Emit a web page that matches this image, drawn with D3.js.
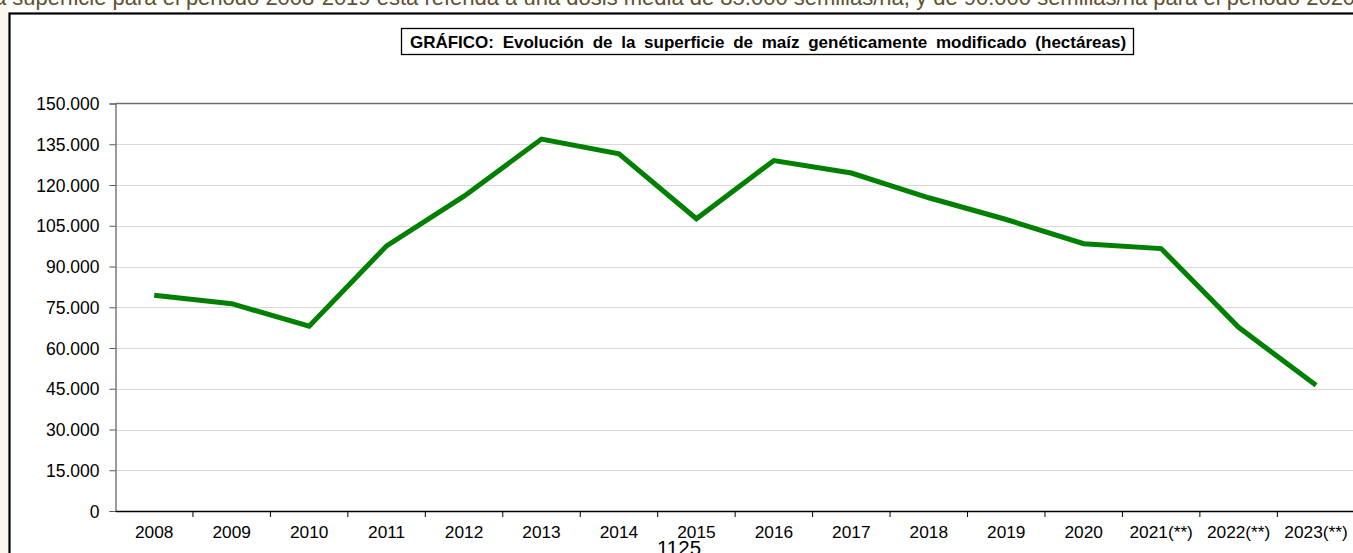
<!DOCTYPE html>
<html>
<head>
<meta charset="utf-8">
<script src="https://cdn.jsdelivr.net/npm/d3@7"></script>
<style>
  html, body { margin: 0; padding: 0; background: #ffffff; overflow: hidden; }
  svg { display: block; }
</style>
</head>
<body>
<script>
// ---- data ----
const years = ["2008","2009","2010","2011","2012","2013","2014","2015","2016","2017","2018","2019","2020","2021(**)","2022(**)","2023(**)"];
const hectares = [79400, 76300, 68000, 97600, 115900, 136900, 131500, 107600, 129000, 124400, 115300, 107300, 98400, 96600, 67600, 46300];
const yTicks = [0, 15000, 30000, 45000, 60000, 75000, 90000, 105000, 120000, 135000, 150000];
const titleText = "GRÁFICO: Evolución de la superficie de maíz genéticamente modificado (hectáreas)";
const topNote = "la superficie para el periodo 2008-2019 está referida a una dosis media de 85.000 semillas/ha, y de 90.000 semillas/ha para el periodo 2020";
const pageNumber = "1125";

const W = 1353, H = 553;
const svg = d3.select("body").append("svg").attr("width", W).attr("height", H);
const font = "'Liberation Sans', Arial, sans-serif";

// page background strip at the left
svg.append("rect").attr("x", 0).attr("y", 0).attr("width", 9).attr("height", H).attr("fill", "#fbf6ee");

// top cut-off note (only lower half visible, as in the reference)
svg.append("text").attr("x", -11).attr("y", 5)
  .attr("font-family", font).attr("font-size", 22)
  .attr("fill", "#5e5230").text(topNote);

// outer chart frame
svg.append("rect").attr("x", 9.5).attr("y", 13.5).attr("width", W + 20).attr("height", H + 20)
  .attr("fill", "#ffffff").attr("stroke", "#000").attr("stroke-width", 2.2);

// scales
const plot = { left: 115.5, right: 1354.8, top: 103.5, bottom: 511 };
const x = d3.scaleBand().domain(years).range([plot.left, plot.right]);
const y = d3.scaleLinear().domain([0, 150000]).range([plot.bottom, plot.top]);

// gridlines
svg.append("g").selectAll("line").data(yTicks.filter(d => d > 0 && d < 150000)).join("line")
  .attr("x1", plot.left).attr("x2", plot.right)
  .attr("y1", d => Math.round(y(d)) + 0.5).attr("y2", d => Math.round(y(d)) + 0.5)
  .attr("stroke", "#d9d9d9").attr("stroke-width", 1.2);

// plot border top
svg.append("line").attr("x1", plot.left).attr("x2", plot.right)
  .attr("y1", plot.top).attr("y2", plot.top)
  .attr("stroke", "#6f6f6f").attr("stroke-width", 1.5);

// y axis
const yAxis = d3.axisLeft(y).tickValues(yTicks).tickSize(6).tickPadding(10)
  .tickFormat(d => d === 0 ? "0" : d3.format(",")(d).replace(/,/g, "."));
const gy = svg.append("g").attr("transform", `translate(${plot.left},0)`).call(yAxis);
gy.select(".domain").attr("stroke", "#595959").attr("stroke-width", 1.2);
gy.selectAll(".tick line").attr("stroke", "#595959");
gy.selectAll(".tick text").attr("font-family", font).attr("font-size", 17.5).attr("fill", "#000").attr("dy", "0.35em");

// x axis
const xAxis = d3.axisBottom(x).tickSize(0).tickPadding(12);
const gx = svg.append("g").attr("transform", `translate(0,${plot.bottom})`).call(xAxis);
gx.select(".domain").attr("stroke", "#000").attr("stroke-width", 1.3);
gx.selectAll(".tick text").attr("font-family", font).attr("font-size", 17.3).attr("fill", "#000")
  .attr("dy", "0").attr("y", 27);
// ticks at band boundaries
svg.append("g").selectAll("line").data(years.slice(1)).join("line")
  .attr("x1", d => x(d)).attr("x2", d => x(d))
  .attr("y1", plot.bottom).attr("y2", plot.bottom + 6)
  .attr("stroke", "#000").attr("stroke-width", 1);

// line
const line = d3.line().x((d, i) => x(years[i]) + x.bandwidth() / 2).y(d => y(d));
svg.append("path").datum(hectares).attr("d", line)
  .attr("fill", "none").attr("stroke", "#008000").attr("stroke-width", 5)
  .attr("stroke-linejoin", "miter").attr("stroke-linecap", "butt");

// title box
const tg = svg.append("g");
tg.append("rect").attr("x", 401.5).attr("y", 28.5).attr("width", 732).attr("height", 26)
  .attr("fill", "#fff").attr("stroke", "#000").attr("stroke-width", 1.3);
tg.append("text").attr("x", 768).attr("y", 47.5).attr("text-anchor", "middle")
  .attr("font-family", font).attr("font-size", 17).attr("font-weight", "bold").attr("fill", "#000")
  .attr("word-spacing", 4).text(titleText);

// page number
svg.append("text").attr("x", 679).attr("y", 555).attr("text-anchor", "middle")
  .attr("font-family", font).attr("font-size", 20.5).attr("fill", "#000").text(pageNumber);
</script>
</body>
</html>
